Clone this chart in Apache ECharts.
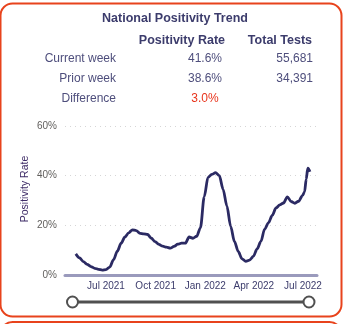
<!DOCTYPE html>
<html>
<head>
<meta charset="utf-8">
<script src="https://cdn.jsdelivr.net/npm/echarts@6/dist/echarts.min.js"></script>
<style>
  html, body { margin: 0; padding: 0; background: #ffffff; }
  #chart { width: 349px; height: 324px; }
</style>
</head>
<body>
<div id="chart"></div>
<script>
// Weekly national positivity rate (%)
var weekDates = [
  '2021-05-06','2021-05-13','2021-05-20','2021-05-27','2021-06-03','2021-06-10','2021-06-17','2021-06-24',
  '2021-07-01','2021-07-08','2021-07-15','2021-07-22','2021-07-29','2021-08-05','2021-08-12','2021-08-19',
  '2021-08-26','2021-09-02','2021-09-09','2021-09-16','2021-09-23','2021-09-30','2021-10-07','2021-10-14',
  '2021-10-21','2021-10-28','2021-11-04','2021-11-11','2021-11-18','2021-11-25','2021-12-02','2021-12-09',
  '2021-12-16','2021-12-23','2021-12-30','2022-01-06','2022-01-13','2022-01-20','2022-01-27','2022-02-03',
  '2022-02-10','2022-02-17','2022-02-24','2022-03-03','2022-03-10','2022-03-17','2022-03-24','2022-03-31',
  '2022-04-07','2022-04-14','2022-04-21','2022-04-28','2022-05-05','2022-05-12','2022-05-19','2022-05-26',
  '2022-06-02','2022-06-09','2022-06-16','2022-06-23','2022-06-30','2022-07-04','2022-07-07','2022-07-10',
  '2022-07-14'
];
var positivityRate = [
  8.5, 6.9, 5.4, 4.3, 3.4, 2.7, 2.3, 2.0,
  2.2, 3.2, 6.2, 9.6, 12.8, 15.3, 17.0, 18.2,
  17.9, 16.8, 16.6, 16.3, 14.8, 13.4, 12.3, 11.6,
  11.2, 10.8, 11.5, 12.4, 12.8, 12.8, 15.3, 14.8,
  15.6, 19.0, 31.5, 39.3, 40.5, 41.2, 40.0, 34.5,
  27.8, 19.6, 13.5, 9.5, 6.5, 5.5, 6.0, 7.5,
  10.5, 13.5, 18.5, 21.0, 24.0, 27.0, 28.2, 29.0,
  31.5, 29.6, 28.9, 29.7, 32.0, 33.5, 38.6, 43.0,
  41.6
];

// Summary table
var rowLabels = ['Current week', 'Prior week', 'Difference'];
var rateValues = ['41.6%', '38.6%', '3.0%'];
var testValues = ['55,681', '34,391', ''];
var columnHeaders = ['Positivity Rate', 'Total Tests'];

// Axis ticks
var quarterStarts = ['2021-07-01', '2021-10-01', '2022-01-01', '2022-04-01', '2022-07-01'];
var monthNames = ['Jan','Feb','Mar','Apr','May','Jun','Jul','Aug','Sep','Oct','Nov','Dec'];

var FONT = 'Liberation Sans, DejaVu Sans, sans-serif';
var INK = '#3c3c6c';
var BODY = '#4e4e7c';

function ts(s) { return new Date(s + 'T00:00:00Z').getTime(); }

var seriesData = weekDates.map(function (d, i) { return [ts(d), positivityRate[i]]; });

var graphics = [
  // panel frame
  { type: 'rect', shape: { x: 0.5, y: 3.5, width: 341, height: 313, r: 12 },
    style: { fill: 'none', stroke: '#e8431c', lineWidth: 2 }, silent: true },
  { type: 'rect', shape: { x: 0.5, y: 322, width: 341, height: 40, r: 12 },
    style: { fill: 'none', stroke: '#e8431c', lineWidth: 2 }, silent: true },
  // title
  { type: 'text', x: 175, y: 19, style: { text: 'National Positivity Trend', font: 'bold 12.5px ' + FONT,
    fill: INK, align: 'center', verticalAlign: 'middle' } },
  // column headers
  { type: 'text', x: 225, y: 41, style: { text: columnHeaders[0], font: 'bold 12.5px ' + FONT,
    fill: INK, align: 'right', verticalAlign: 'middle' } },
  { type: 'text', x: 312, y: 41, style: { text: columnHeaders[1], font: 'bold 12.5px ' + FONT,
    fill: INK, align: 'right', verticalAlign: 'middle' } },
  // y-axis title
  { type: 'text', x: 25, y: 189, rotation: Math.PI / 2,
    style: { text: 'Positivity Rate', font: '10.5px ' + FONT, fill: '#3d2a66',
      align: 'center', verticalAlign: 'middle' } },
  // range slider
  { type: 'line', shape: { x1: 72, y1: 302, x2: 309, y2: 302 },
    style: { stroke: '#505050', lineWidth: 3 }, silent: true },
  { type: 'circle', shape: { cx: 72.5, cy: 302, r: 5.5 },
    style: { fill: '#ffffff', stroke: '#505050', lineWidth: 2 }, silent: true },
  { type: 'circle', shape: { cx: 309, cy: 302, r: 5.5 },
    style: { fill: '#ffffff', stroke: '#505050', lineWidth: 2 }, silent: true }
];

var rowY = [59, 79, 99];
rowLabels.forEach(function (lbl, i) {
  graphics.push({ type: 'text', x: 116, y: rowY[i], style: { text: lbl, font: '12px ' + FONT,
    fill: BODY, align: 'right', verticalAlign: 'middle' } });
  graphics.push({ type: 'text', x: 205, y: rowY[i], style: { text: rateValues[i], font: '12px ' + FONT,
    fill: i === 2 ? '#e8341c' : BODY, align: 'center', verticalAlign: 'middle' } });
  if (testValues[i]) {
    graphics.push({ type: 'text', x: 313, y: rowY[i], style: { text: testValues[i], font: '12px ' + FONT,
      fill: BODY, align: 'right', verticalAlign: 'middle' } });
  }
});

var chart = echarts.init(document.getElementById('chart'), null, { renderer: 'canvas' });
chart.setOption({
  animation: false,
  backgroundColor: '#ffffff',
  grid: { left: 65, right: 32, top: 126, bottom: 49, containLabel: false },
  xAxis: {
    type: 'value',
    min: ts('2021-04-16'),
    max: ts('2022-07-27'),
    axisLine: { show: true, lineStyle: { color: '#9a9abc', width: 3 } },
    axisTick: { show: false },
    splitLine: { show: false },
    axisLabel: {
      customValues: quarterStarts.map(ts),
      color: '#3c3c6c',
      fontFamily: FONT,
      fontSize: 10,
      margin: 6,
      formatter: function (v) {
        var d = new Date(v);
        return monthNames[d.getUTCMonth()] + ' ' + d.getUTCFullYear();
      }
    }
  },
  yAxis: {
    type: 'value',
    min: 0, max: 60, interval: 20,
    axisLine: { show: false },
    axisTick: { show: false },
    splitLine: { show: true, lineStyle: { color: '#d6d6d6', type: [1, 4], width: 1 } },
    axisLabel: {
      color: '#605e5c', fontFamily: FONT, fontSize: 10, margin: 8,
      formatter: function (v) { return v + '%'; }
    }
  },
  series: [{
    type: 'line',
    data: seriesData,
    showSymbol: false,
    smooth: 0.3,
    smoothMonotone: 'x',
    lineStyle: { color: '#2b2a63', width: 2.8 },
    z: 3
  }],
  graphic: graphics
});
</script>
</body>
</html>
